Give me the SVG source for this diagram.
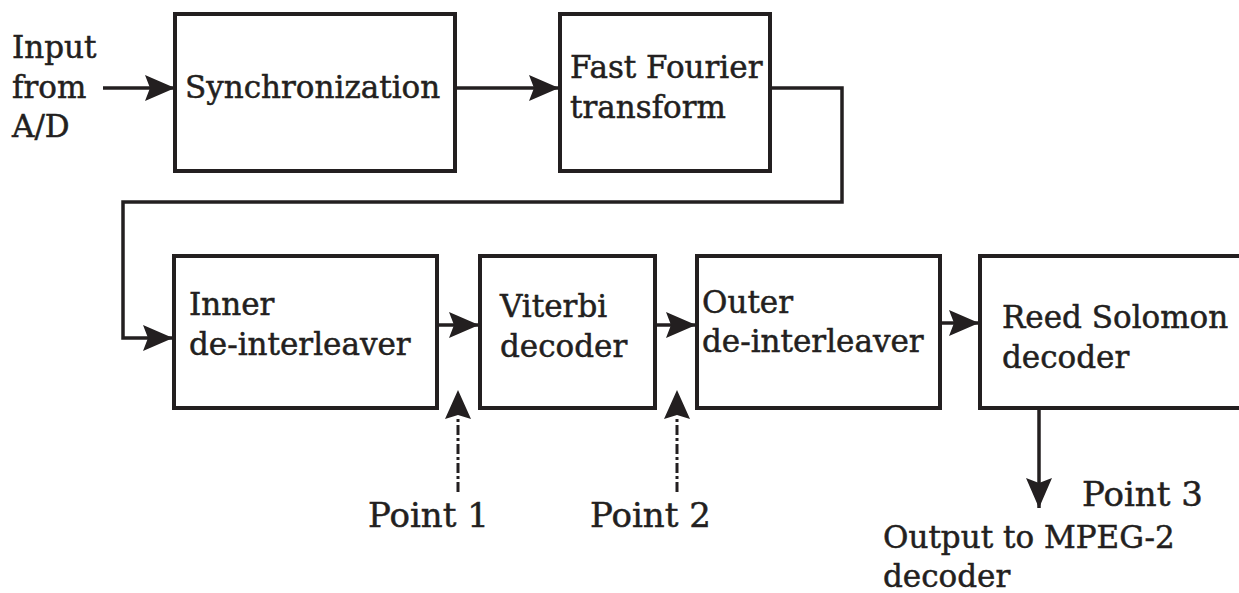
<svg xmlns="http://www.w3.org/2000/svg" width="1239" height="593" viewBox="0 0 1239 593">
<defs>
<style>
.box{fill:#fff;stroke:#231f20;stroke-width:4}
.ln{fill:none;stroke:#231f20;stroke-width:3.5}
.dash{fill:none;stroke:#231f20;stroke-width:3;stroke-dasharray:10 3 3 3}
text{font-family:"DejaVu Serif","Liberation Serif",serif;fill:#231f20;font-size:31px;stroke:#231f20;stroke-width:0.5}
.pt{font-size:34px}
</style>
<marker id="ah" viewBox="0 0 30 26" refX="30" refY="13" markerWidth="30" markerHeight="26" markerUnits="userSpaceOnUse" orient="auto">
<path d="M0,0 L30,13 L0,26 L5,13 z" fill="#231f20"/>
</marker>
</defs>
<rect width="1239" height="593" fill="#fff"/>
<g id="connectors">
<line class="ln" x1="103" y1="88" x2="175" y2="88" marker-end="url(#ah)"/>
<line class="ln" x1="455" y1="88" x2="559" y2="88" marker-end="url(#ah)"/>
<polyline class="ln" points="770,88 842,88 842,202 123,202 123,338 173,338" marker-end="url(#ah)"/>
<line class="ln" x1="437" y1="325" x2="479" y2="325" marker-end="url(#ah)"/>
<line class="ln" x1="655" y1="325" x2="696" y2="325" marker-end="url(#ah)"/>
<line class="ln" x1="940" y1="323" x2="979" y2="323" marker-end="url(#ah)"/>
<line class="ln" x1="1039" y1="408" x2="1039" y2="508" marker-end="url(#ah)"/>
<line class="dash" x1="458" y1="492" x2="458" y2="418"/>
<path d="M458,390 L471,419 L458,415 L445,419 z" fill="#231f20"/>
<line class="dash" x1="677" y1="492" x2="677" y2="418"/>
<path d="M677,390 L690,419 L677,415 L664,419 z" fill="#231f20"/>
</g>
<g id="input">
<text x="12" y="58">Input</text>
<text x="12" y="98">from</text>
<text x="12" y="137">A/D</text>
</g>
<g id="sync">
<rect class="box" x="175" y="14" width="280" height="157"/>
<text x="185" y="98">Synchronization</text>
</g>
<g id="fft">
<rect class="box" x="560" y="14" width="210" height="157"/>
<text x="570" y="78">Fast Fourier</text>
<text x="570" y="118">transform</text>
</g>
<g id="inner">
<rect class="box" x="174" y="256" width="263" height="152"/>
<text x="189" y="315">Inner</text>
<text x="189" y="355">de-interleaver</text>
</g>
<g id="viterbi">
<rect class="box" x="480" y="256" width="175" height="152"/>
<text x="500" y="317">Viterbi</text>
<text x="500" y="357">decoder</text>
</g>
<g id="outer">
<rect class="box" x="697" y="256" width="243" height="152"/>
<text x="702" y="313">Outer</text>
<text x="702" y="352">de-interleaver</text>
</g>
<g id="rs">
<rect class="box" x="980" y="256" width="270" height="152"/>
<text x="1002" y="328">Reed Solomon</text>
<text x="1002" y="368">decoder</text>
</g>
<g id="point1"><text class="pt" x="368" y="527">Point 1</text></g>
<g id="point2"><text class="pt" x="590" y="527">Point 2</text></g>
<g id="point3"><text class="pt" x="1082" y="506">Point 3</text></g>
<g id="output">
<text x="883" y="548">Output to MPEG-2</text>
<text x="883" y="587">decoder</text>
</g>
</svg>
